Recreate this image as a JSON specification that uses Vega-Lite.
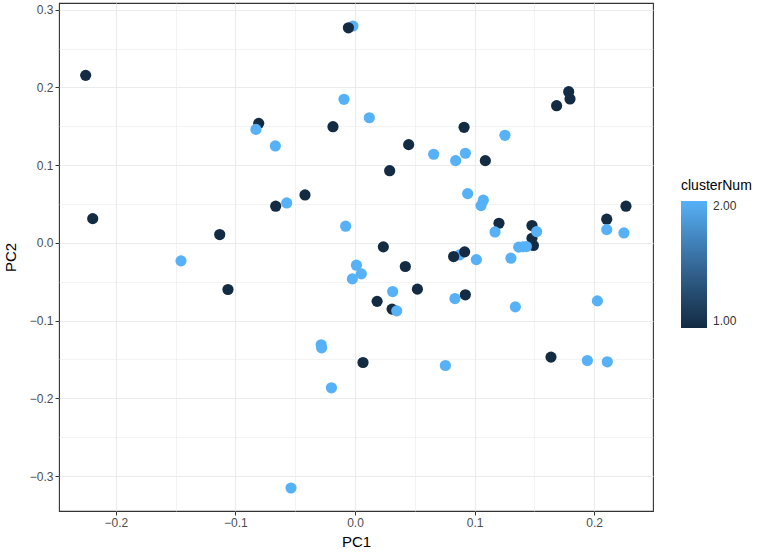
{
  "$schema": "https://vega.github.io/schema/vega-lite/v6.json",
  "autosize": {"type": "none"},
  "padding": {"left": 59, "top": 3, "right": 115, "bottom": 45},
  "width": 594,
  "height": 508,
  "background": "white",
  "config": {
    "font": "Liberation Sans",
    "view": {"stroke": "#333333", "strokeWidth": 1.1},
    "axis": {
      "domain": false,
      "tickColor": "#333333",
      "tickSize": 4,
      "labelColor": "#4D4D4D",
      "labelFontSize": 12,
      "labelPadding": 2,
      "titleFontSize": 15,
      "titleFontWeight": "normal",
      "titleColor": "#000000",
      "gridColor": "#EBEBEB"
    }
  },
  "data": {
    "values": [
      {"PC1": -0.0017, "PC2": 0.279, "clusterNum": 2},
      {"PC1": -0.0055, "PC2": 0.2767, "clusterNum": 1},
      {"PC1": -0.2252, "PC2": 0.2155, "clusterNum": 1},
      {"PC1": -0.0092, "PC2": 0.1847, "clusterNum": 2},
      {"PC1": 0.012, "PC2": 0.161, "clusterNum": 2},
      {"PC1": -0.0805, "PC2": 0.1538, "clusterNum": 1},
      {"PC1": -0.0828, "PC2": 0.146, "clusterNum": 2},
      {"PC1": -0.0184, "PC2": 0.1495, "clusterNum": 1},
      {"PC1": -0.0666, "PC2": 0.1247, "clusterNum": 2},
      {"PC1": -0.0418, "PC2": 0.0617, "clusterNum": 1},
      {"PC1": -0.0663, "PC2": 0.0472, "clusterNum": 1},
      {"PC1": -0.0571, "PC2": 0.0514, "clusterNum": 2},
      {"PC1": -0.2193, "PC2": 0.0312, "clusterNum": 1},
      {"PC1": -0.0078, "PC2": 0.0215, "clusterNum": 2},
      {"PC1": -0.1131, "PC2": 0.0107, "clusterNum": 1},
      {"PC1": -0.1455, "PC2": -0.0231, "clusterNum": 2},
      {"PC1": 0.0012, "PC2": -0.0287, "clusterNum": 2},
      {"PC1": 0.0053, "PC2": -0.0398, "clusterNum": 2},
      {"PC1": -0.0022, "PC2": -0.0463, "clusterNum": 2},
      {"PC1": 0.0185, "PC2": -0.0752, "clusterNum": 1},
      {"PC1": -0.1062, "PC2": -0.06, "clusterNum": 1},
      {"PC1": -0.0283, "PC2": -0.131, "clusterNum": 2},
      {"PC1": -0.0279, "PC2": -0.135, "clusterNum": 2},
      {"PC1": 0.0067, "PC2": -0.1539, "clusterNum": 1},
      {"PC1": -0.0197, "PC2": -0.1864, "clusterNum": 2},
      {"PC1": -0.0535, "PC2": -0.3153, "clusterNum": 2},
      {"PC1": 0.1787, "PC2": 0.1945, "clusterNum": 1},
      {"PC1": 0.1798, "PC2": 0.1851, "clusterNum": 1},
      {"PC1": 0.1686, "PC2": 0.1765, "clusterNum": 1},
      {"PC1": 0.0912, "PC2": 0.1487, "clusterNum": 1},
      {"PC1": 0.1254, "PC2": 0.1384, "clusterNum": 2},
      {"PC1": 0.0449, "PC2": 0.1264, "clusterNum": 1},
      {"PC1": 0.0658, "PC2": 0.114, "clusterNum": 2},
      {"PC1": 0.0842, "PC2": 0.1058, "clusterNum": 2},
      {"PC1": 0.0923, "PC2": 0.1153, "clusterNum": 2},
      {"PC1": 0.109, "PC2": 0.1058, "clusterNum": 1},
      {"PC1": 0.029, "PC2": 0.0929, "clusterNum": 1},
      {"PC1": 0.0942, "PC2": 0.0634, "clusterNum": 2},
      {"PC1": 0.1073, "PC2": 0.0549, "clusterNum": 2},
      {"PC1": 0.1054, "PC2": 0.048, "clusterNum": 2},
      {"PC1": 0.2266, "PC2": 0.0472, "clusterNum": 1},
      {"PC1": 0.2105, "PC2": 0.0305, "clusterNum": 1},
      {"PC1": 0.2105, "PC2": 0.0171, "clusterNum": 2},
      {"PC1": 0.2249, "PC2": 0.0128, "clusterNum": 2},
      {"PC1": 0.1204, "PC2": 0.0253, "clusterNum": 1},
      {"PC1": 0.1171, "PC2": 0.0141, "clusterNum": 2},
      {"PC1": 0.148, "PC2": 0.0223, "clusterNum": 1},
      {"PC1": 0.148, "PC2": 0.006, "clusterNum": 1},
      {"PC1": 0.1492, "PC2": -0.0034, "clusterNum": 1},
      {"PC1": 0.1519, "PC2": 0.0145, "clusterNum": 2},
      {"PC1": 0.1369, "PC2": -0.0055, "clusterNum": 2},
      {"PC1": 0.1405, "PC2": -0.005, "clusterNum": 2},
      {"PC1": 0.1433, "PC2": -0.0047, "clusterNum": 2},
      {"PC1": 0.0237, "PC2": -0.0051, "clusterNum": 1},
      {"PC1": 0.0875, "PC2": -0.0154, "clusterNum": 2},
      {"PC1": 0.0825, "PC2": -0.0176, "clusterNum": 1},
      {"PC1": 0.0917, "PC2": -0.0115, "clusterNum": 1},
      {"PC1": 0.1015, "PC2": -0.0215, "clusterNum": 2},
      {"PC1": 0.1304, "PC2": -0.0197, "clusterNum": 2},
      {"PC1": 0.0421, "PC2": -0.0304, "clusterNum": 1},
      {"PC1": 0.0315, "PC2": -0.0626, "clusterNum": 2},
      {"PC1": 0.0522, "PC2": -0.0595, "clusterNum": 1},
      {"PC1": 0.031, "PC2": -0.0852, "clusterNum": 1},
      {"PC1": 0.0349, "PC2": -0.0874, "clusterNum": 2},
      {"PC1": 0.0836, "PC2": -0.0716, "clusterNum": 2},
      {"PC1": 0.0923, "PC2": -0.0668, "clusterNum": 1},
      {"PC1": 0.1341, "PC2": -0.0823, "clusterNum": 2},
      {"PC1": 0.2027, "PC2": -0.0746, "clusterNum": 2},
      {"PC1": 0.0756, "PC2": -0.1577, "clusterNum": 2},
      {"PC1": 0.1639, "PC2": -0.1469, "clusterNum": 1},
      {"PC1": 0.1943, "PC2": -0.1513, "clusterNum": 2},
      {"PC1": 0.211, "PC2": -0.153, "clusterNum": 2}
    ]
  },
  "mark": {"type": "circle", "size": 125, "opacity": 1},
  "encoding": {
    "x": {
      "field": "PC1",
      "type": "quantitative",
      "scale": {"domain": [-0.2475, 0.2492], "nice": false, "zero": false},
      "axis": {
        "values": [-0.2, -0.15, -0.1, -0.05, 0, 0.05, 0.1, 0.15, 0.2],
        "labelExpr": "abs(round(datum.value*100)) % 10 == 5 ? '' : format(datum.value, '.1f')",
        "tickOpacity": {"condition": {"test": "abs(round(datum.value*100)) % 10 == 5", "value": 0}, "value": 1},
        "gridWidth": {"condition": {"test": "abs(round(datum.value*100)) % 10 == 5", "value": 0.6}, "value": 1.1},
        "title": "PC1",
        "titlePadding": 6
      }
    },
    "y": {
      "field": "PC2",
      "type": "quantitative",
      "scale": {"domain": [-0.3449, 0.3086], "nice": false, "zero": false},
      "axis": {
        "values": [-0.3, -0.25, -0.2, -0.15, -0.1, -0.05, 0, 0.05, 0.1, 0.15, 0.2, 0.25, 0.3],
        "labelExpr": "abs(round(datum.value*100)) % 10 == 5 ? '' : format(datum.value, '.1f')",
        "tickOpacity": {"condition": {"test": "abs(round(datum.value*100)) % 10 == 5", "value": 0}, "value": 1},
        "gridWidth": {"condition": {"test": "abs(round(datum.value*100)) % 10 == 5", "value": 0.6}, "value": 1.1},
        "title": "PC2",
        "titlePadding": 11
      }
    },
    "color": {
      "field": "clusterNum",
      "type": "quantitative",
      "scale": {"domain": [1, 2], "range": ["#132B43", "#56B1F7"]},
      "legend": {
        "orient": "none",
        "legendX": 622,
        "legendY": 176,
        "direction": "vertical",
        "title": "clusterNum",
        "titleFontSize": 14,
        "titleFontWeight": "normal",
        "titleColor": "#000000",
        "titlePadding": 8,
        "gradientLength": 127,
        "gradientThickness": 26,
        "gradientStrokeWidth": 0,
        "values": [1, 2],
        "format": ".2f",
        "labelFontSize": 12,
        "labelColor": "#333333",
        "labelOffset": 6
      }
    }
  }
}
